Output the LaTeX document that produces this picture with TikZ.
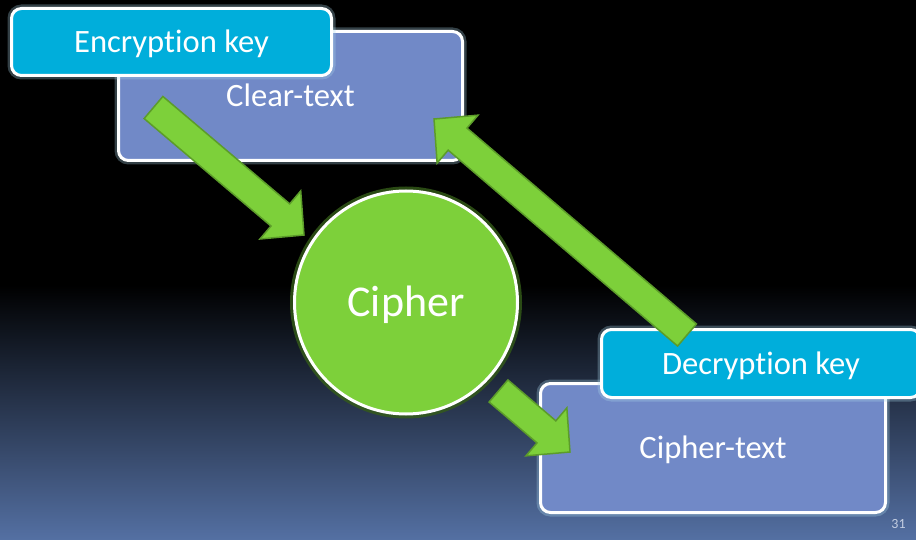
\documentclass[tikz,border=0pt]{standalone}
\usepackage{fontspec}
\setmainfont{Carlito}[Ligatures={NoCommon}]
\usetikzlibrary{calc}

\definecolor{keyblue}{RGB}{0,174,219}
\definecolor{slate}{RGB}{113,137,199}
\definecolor{leaf}{RGB}{125,208,58}
\definecolor{leafedge}{RGB}{92,156,42}
\definecolor{leafglow}{RGB}{52,92,24}
\definecolor{boxglow}{RGB}{170,215,235}
\definecolor{bgbottom}{RGB}{84,112,163}
\definecolor{pagenum}{RGB}{195,205,225}

% block arrow from tail centre #1 to tip #2
\newcommand\blockarrow[2]{%
  \coordinate (#1base) at ($(#2)!31pt!(#1)$);
  \filldraw[greenarrow]
    ($(#1)!14.5pt!90:(#2)$)
    -- ($(#1base)!14.5pt!-90:(#1)$)
    -- ($(#1base)!31.5pt!-90:(#1)$)
    -- (#2)
    -- ($(#1base)!31.5pt!90:(#1)$)
    -- ($(#1base)!14.5pt!90:(#1)$)
    -- ($(#1)!14.5pt!-90:(#2)$)
    -- cycle;}

\begin{document}
\begin{tikzpicture}[x=1pt,y=-1pt,
  plainbox/.style={draw=white, line width=3pt, rounded corners=10pt,
    inner sep=0pt, text=white, font=\fontsize{32.6}{36}\selectfont,
    text height=21pt, text depth=0pt,
    preaction={draw=boxglow, line width=8pt, opacity=0.3}},
  greenarrow/.style={fill=leaf, draw=leafedge, line width=1.5pt, line join=miter}]

\useasboundingbox (0,0) rectangle (916,540);

% backdrop: black, fading into slate blue towards the bottom
\fill[black] (0,0) rectangle (916,540);
\shade[top color=black, bottom color=bgbottom] (0,285) rectangle (916,540);

% text boxes
\node[plainbox, fill=slate, minimum width=344pt, minimum height=129pt]
  (clear) at (290.5,96) {Clear-text};
\node[plainbox, fill=keyblue, minimum width=320pt, minimum height=67pt]
  (enckey) at (171.5,42) {Encryption key};
\node[plainbox, fill=slate, minimum width=345pt, minimum height=129pt]
  (ctext) at (713,448) {Cipher-text};
\node[plainbox, fill=keyblue, minimum width=319pt, minimum height=68pt]
  (deckey) at (761,363.5) {Decryption key};

% cipher disc
\node[circle, draw=white, line width=3pt, fill=leaf, minimum size=223pt,
  inner sep=0pt, text=white, font=\fontsize{44}{48}\selectfont,
  text height=28.3pt, text depth=0pt,
  preaction={draw=leafglow, line width=9pt, opacity=0.8}]
  (cipher) at (406,302.5) {Cipher};

% arrow ends
\coordinate (encA) at (153.5,107.5);
\coordinate (encB) at (304,235);
\coordinate (decA) at (687,335);
\coordinate (decB) at (434,119);
\coordinate (outA) at (498.5,391);
\coordinate (outB) at (570,452);

\blockarrow{encA}{encB}
\blockarrow{decA}{decB}
\blockarrow{outA}{outB}

% slide number
\node[font=\fontsize{14}{15}\selectfont,
  text=pagenum, anchor=base, inner sep=0pt] (pg) at (898.5,528) {31};
\end{tikzpicture}
\end{document}
